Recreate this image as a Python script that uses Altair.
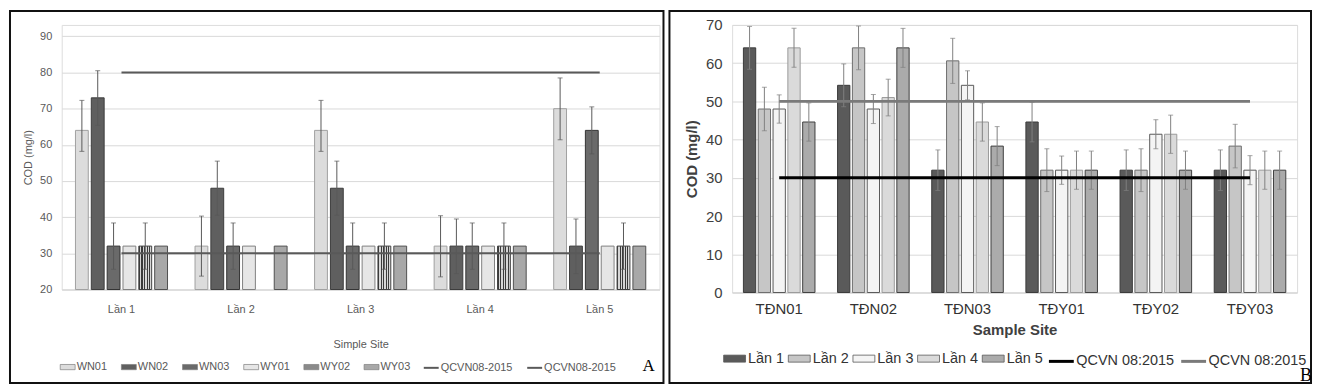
import altair as alt
import pandas as pd

SANS = "Liberation Sans"
SERIF = "Liberation Serif"

# ---------------- Panel A data ----------------
a_times = ["Lần 1", "Lần 2", "Lần 3", "Lần 4", "Lần 5"]
a_sites = ["WN01", "WN02", "WN03", "WY01", "WY02", "WY03"]
a_wn01 = [64, 32, 64, 32, 70]
a_wn02 = [73, 48, 48, 32, 32]
a_wn03 = [32, 32, 32, 32, 64]
a_wy01 = [32, 32, 32, 32, 32]
a_wy02 = [32, None, 32, 32, 32]
a_wy03 = [32, 32, 32, 32, 32]
a_wn01_hi = [72.3, 40.3, 72.3, 40.4, 78.5]
a_wn01_lo = [58.2, 23.7, 58.2, 23.5, 61.4]
a_wn02_hi = [80.5, 55.5, 55.5, 39.5, 39.5]
a_wn02_lo = [65.4, 40.5, 40.5, 24.4, 24.4]
a_wn03_hi = [38.4, 38.4, 38.4, 38.4, 70.5]
a_wn03_lo = [25.6, 25.6, 25.6, 25.6, 57.5]
a_wy02_hi = [38.4, None, 38.4, 38.4, 38.4]
a_wy02_lo = [25.6, None, 25.6, 25.6, 25.6]
a_limit_names = ["QCVN08-2015 (30)", "QCVN08-2015 (80)"]
a_limit_values = [30, 80]

# ---------------- Panel B data ----------------
b_sites = ["TĐN01", "TĐN02", "TĐN03", "TĐY01", "TĐY02", "TĐY03"]
b_times = ["Lần 1", "Lần 2", "Lần 3", "Lần 4", "Lần 5"]
b_lan1 = [64, 54.2, 32, 44.6, 32, 32]
b_lan2 = [48, 64, 60.6, 32, 32, 38.3]
b_lan3 = [48, 48, 54.2, 32, 41.4, 32]
b_lan4 = [64, 51, 44.6, 32, 41.4, 32]
b_lan5 = [44.6, 64, 38.3, 32, 32, 32]
b_lan1_err = [5.6, 5.6, 5.3, 5.2, 5.3, 5.3]
b_lan2_err = [5.7, 5.7, 5.9, 5.6, 5.6, 5.7]
b_lan3_err = [3.7, 3.8, 3.8, 3.7, 3.8, 3.8]
b_lan4_err = [5.1, 4.8, 5.0, 5.0, 5.0, 5.0]
b_lan5_err = [5.0, 5.1, 5.1, 5.0, 5.0, 5.0]
b_limit_names = ["QCVN 08:2015 (30)", "QCVN 08:2015 (50)"]
b_limit_values = [30, 50]

# ---------------- tables ----------------
a_vals = {"WN01": a_wn01, "WN02": a_wn02, "WN03": a_wn03,
          "WY01": a_wy01, "WY02": a_wy02, "WY03": a_wy03}
a_errs = {"WN01": (a_wn01_lo, a_wn01_hi), "WN02": (a_wn02_lo, a_wn02_hi),
          "WN03": (a_wn03_lo, a_wn03_hi), "WY02": (a_wy02_lo, a_wy02_hi)}
rows = []
for s in a_sites:
    for i, t in enumerate(a_times):
        v = a_vals[s][i]
        if v is None:
            continue
        r = dict(cat=t, ser=s, value=v)
        if s in a_errs and a_errs[s][0][i] is not None:
            r["lo"] = a_errs[s][0][i]
            r["hi"] = a_errs[s][1][i]
        rows.append(r)
dfA = pd.DataFrame(rows)
errA = dfA.dropna(subset=["lo"]).copy()
limA = pd.DataFrame([dict(cat=t, lim=n, value=v)
                     for n, v in zip(a_limit_names, a_limit_values) for t in a_times])

b_vals = {"Lần 1": (b_lan1, b_lan1_err), "Lần 2": (b_lan2, b_lan2_err),
          "Lần 3": (b_lan3, b_lan3_err), "Lần 4": (b_lan4, b_lan4_err),
          "Lần 5": (b_lan5, b_lan5_err)}
rows = []
for s in b_times:
    vals, errs = b_vals[s]
    for i, c in enumerate(b_sites):
        rows.append(dict(cat=c, ser=s, value=vals[i],
                         lo=round(vals[i] - errs[i], 2), hi=round(vals[i] + errs[i], 2)))
dfB = pd.DataFrame(rows)
errB = dfB.copy()
limB = pd.DataFrame([dict(cat=c, lim=n, value=v)
                     for n, v in zip(b_limit_names, b_limit_values) for c in b_sites])


def stripes(dark, light, n, frac):
    stops = []
    for i in range(n):
        a, b, c = i / n, (i + frac) / n, (i + 1) / n
        stops += [{"offset": a, "color": dark}, {"offset": b, "color": dark},
                  {"offset": b, "color": light}, {"offset": c, "color": light}]
    return {"gradient": "linear", "x1": 0, "x2": 1, "y1": 0, "y2": 0, "stops": stops}


def panel(df, err, lim, cats, sers, W, H, xpad, xopad, ydom,
          xaxis, yaxis, fills, edges, special, fill_legend, lim_colors, lim_width,
          lim_names, line_legend, err_color, cap, frame, letter, letter_pos, letter_size):
    xs = alt.Scale(domain=cats, paddingInner=xpad, paddingOuter=xpad / 2)
    ys = alt.Scale(domain=ydom, nice=False, zero=False, clamp=True)
    xo = alt.XOffset("ser:N", scale=alt.Scale(domain=sers, paddingInner=xopad, paddingOuter=0))
    X = alt.X("cat:N", scale=xs, axis=xaxis)
    layers = []
    fill_scale = alt.Scale(domain=sers, range=fills)
    for s, fc, ec in zip(sers, fills, edges):
        base = alt.Chart(df).transform_filter(alt.datum.ser == s)
        if s in special:
            m = base.mark_bar(fill=special[s], stroke=ec, strokeWidth=1).encode(
                x=X, xOffset=xo, y=alt.Y("value:Q", scale=ys, axis=yaxis))
        else:
            m = base.mark_bar(stroke=ec, strokeWidth=1).encode(
                x=X, xOffset=xo, y=alt.Y("value:Q", scale=ys, axis=yaxis),
                fill=alt.Fill("ser:N", scale=fill_scale, legend=fill_legend))
        layers.append(m)
    rule = alt.Chart(err).mark_rule(color=err_color, strokeWidth=1).encode(
        x=X, xOffset=xo, y=alt.Y("lo:Q", scale=ys, axis=yaxis), y2="hi:Q")
    caps = alt.Chart(err).transform_fold(["lo", "hi"], as_=["end", "ev"]).mark_tick(
        orient="horizontal", size=cap, thickness=1, color=err_color).encode(
        x=X, xOffset=xo, y=alt.Y("ev:Q", scale=ys, axis=yaxis))
    lines = alt.Chart(lim).mark_line(strokeWidth=lim_width).encode(
        x=X, y=alt.Y("value:Q", scale=ys, axis=yaxis),
        stroke=alt.Stroke("lim:N", scale=alt.Scale(domain=lim_names, range=lim_colors),
                          legend=line_legend))
    one = pd.DataFrame({"k": [0]})
    box = alt.Chart(one).mark_rect(fillOpacity=0, stroke="#111111", strokeWidth=2).encode(
        x=alt.value(frame[0]), x2=alt.value(frame[1]), y=alt.value(frame[2]), y2=alt.value(frame[3]))
    lab = alt.Chart(one).mark_text(font=SERIF, fontSize=letter_size, color="#000000",
                                   align="center", baseline="middle").encode(
        x=alt.value(letter_pos[0]), y=alt.value(letter_pos[1]), text=alt.value(letter))
    return alt.layer(*layers, rule, caps, lines, box, lab).properties(width=W, height=H)


# ---------------- Panel A ----------------
W_A, H_A = 601, 266
xaxA = alt.Axis(title="Simple Site", labelAngle=0, labelFont=SANS, labelFontSize=11,
                labelColor="#595959", labelPadding=14, ticks=False, domainColor="#d9d9d9",
                titleFont=SANS, titleFontSize=11, titleFontWeight="normal",
                titleColor="#595959", titlePadding=24, grid=False)
yaxA = alt.Axis(values=list(range(20, 91, 10)), title="COD (mg/l)", grid=True,
                gridColor="#d9d9d9", domain=False, ticks=False, labelFont=SANS,
                labelFontSize=11, labelColor="#595959", labelPadding=10,
                titleFont=SANS, titleFontSize=11, titleFontWeight="normal",
                titleColor="#595959", titlePadding=6)
legA_fill = alt.Legend(orient="none", legendX=-2, legendY=H_A + 70, direction="horizontal",
                       title=None, symbolType="M-1,-0.35H1V0.35H-1Z", symbolSize=225,
                       symbolStrokeColor="#7f7f7f", symbolStrokeWidth=0.7,
                       labelFont=SANS, labelFontSize=11, labelColor="#595959",
                       labelOffset=1, columnPadding=12.5)
legA_line = alt.Legend(orient="none", legendX=363, legendY=H_A + 70, direction="horizontal",
                       title=None, symbolType="stroke", symbolSize=225, symbolStrokeWidth=2,
                       labelExpr="'QCVN08-2015'", labelFont=SANS, labelFontSize=11,
                       labelColor="#595959", labelOffset=1, columnPadding=10)
a_fill = ["#dcdcdc", "#5f5f5f", "#6a6a6a", "#e6e6e6", "#8a8a8a", "#a8a8a8"]
a_edge = ["#a0a0a0", "#3c3c3c", "#333333", "#808080", "#404040", "#505050"]
chartA = panel(dfA, errA, limA, a_times, a_sites, W_A, H_A, 0.23, 0.19, [20, 93.16],
               xaxA, yaxA, a_fill, a_edge,
               {"WY02": stripes("#3a3a3a", "#d6d6d6", 5, 0.45)}, legA_fill,
               ["#595959", "#595959"], 2, a_limit_names, legA_line, "#595959", 5,
               (-52, W_A + 4, -14, H_A + 94), "A", (W_A - 11, H_A + 77), 17)

# ---------------- Panel B ----------------
W_B, H_B = 568, 269
xaxB = alt.Axis(title="Sample Site", labelAngle=0, labelFont=SANS, labelFontSize=15,
                labelColor="#333333", labelPadding=9, ticks=False, domainColor="#d9d9d9",
                titleFont=SANS, titleFontSize=15, titleFontWeight="bold",
                titleColor="#404040", titlePadding=6, grid=False)
yaxB = alt.Axis(values=list(range(0, 71, 10)), title="COD (mg/l)", grid=True,
                gridColor="#d9d9d9", domain=False, ticks=False, labelFont=SANS,
                labelFontSize=15, labelColor="#404040", labelPadding=10,
                titleFont=SANS, titleFontSize=15, titleFontWeight="bold",
                titleColor="#404040", titlePadding=6)
legB_fill = alt.Legend(orient="none", legendX=-9, legendY=H_B + 55, direction="horizontal",
                       title=None, symbolType="M-1,-0.32H1V0.32H-1Z", symbolSize=484,
                       symbolStrokeColor="#595959", symbolStrokeWidth=0.8,
                       labelFont=SANS, labelFontSize=14.5, labelColor="#333333",
                       labelOffset=2, columnPadding=1)
legB_line = alt.Legend(orient="none", legendX=317, legendY=H_B + 55, direction="horizontal",
                       title=None, symbolType="stroke", symbolSize=625, symbolStrokeWidth=3,
                       labelExpr="'QCVN 08:2015'", labelFont=SANS, labelFontSize=14.5,
                       labelColor="#333333", labelOffset=1, columnPadding=0)
b_fill = ["#5a5a5a", "#c6c6c6", "#f4f4f4", "#dadada", "#ababab"]
b_edge = ["#3a3a3a", "#6e6e6e", "#595959", "#9a9a9a", "#404040"]
chartB = panel(dfB, errB, limB, b_sites, b_times, W_B, H_B, 0.24, 0.17, [0, 70],
               xaxB, yaxB, b_fill, b_edge, {}, legB_fill,
               ["#000000", "#7a7a7a"], 3, b_limit_names, legB_line, "#808080", 5,
               (-63, W_B + 14, -14, H_B + 91), "B", (W_B + 9, H_B + 84), 18)

chart = (alt.hconcat(chartA, chartB, spacing=2)
         .resolve_scale(x="independent", y="independent", xOffset="independent",
                        fill="independent", stroke="independent")
         .resolve_legend(fill="independent", stroke="independent")
         .properties(padding=0)
         .configure_view(stroke=None)
         .configure(background="#ffffff"))

chart.save("out.html", embed_options={"renderer": "svg", "actions": False})
